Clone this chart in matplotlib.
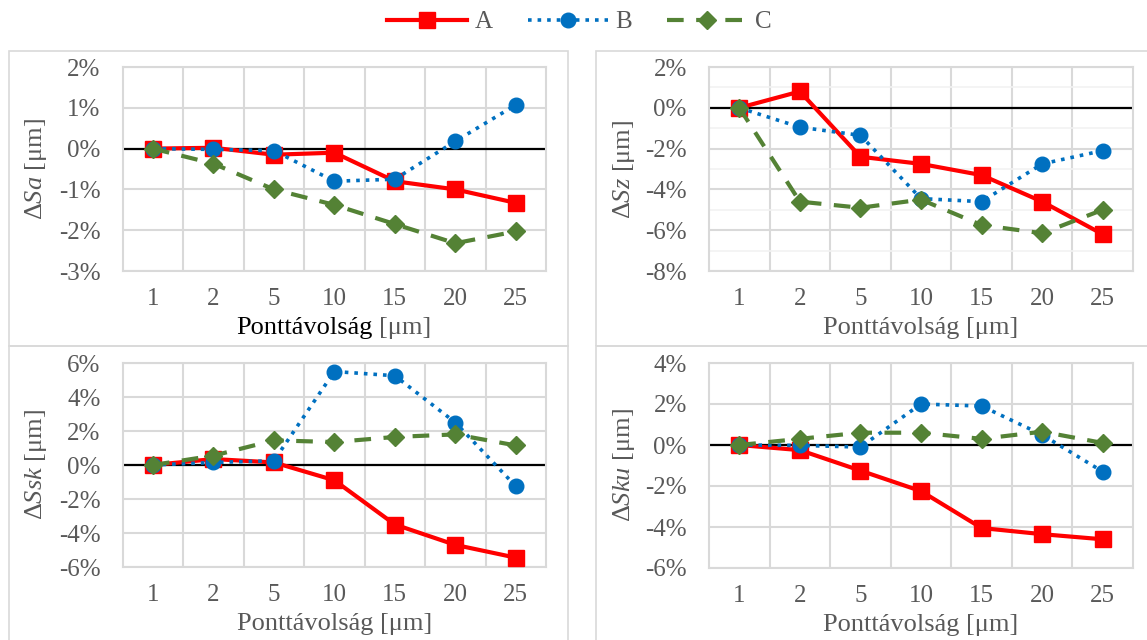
import matplotlib
matplotlib.use('Agg')
import matplotlib.pyplot as plt
from matplotlib.patches import Rectangle
from matplotlib.ticker import MultipleLocator, FuncFormatter

plt.rcParams['font.family'] = ['Liberation Serif', 'DejaVu Serif']
plt.rcParams['mathtext.fontset'] = 'custom'
plt.rcParams['mathtext.rm'] = 'Liberation Serif'
plt.rcParams['mathtext.it'] = 'Liberation Serif:italic'

categories = ['1', '2', '5', '10', '15', '20', '25']
series_names = ['A', 'B', 'C']

# values in percent
sa_a = [0, 0.02, -0.15, -0.1, -0.8, -1.0, -1.33]
sa_b = [0, -0.02, -0.05, -0.8, -0.75, 0.18, 1.07]
sa_c = [0, -0.37, -1.0, -1.38, -1.85, -2.32, -2.03]

sz_a = [0, 0.8, -2.4, -2.75, -3.3, -4.6, -6.2]
sz_b = [0, -0.95, -1.35, -4.45, -4.6, -2.75, -2.1]
sz_c = [0, -4.6, -4.9, -4.5, -5.75, -6.15, -5.0]

ssk_a = [0, 0.35, 0.15, -0.9, -3.5, -4.7, -5.45]
ssk_b = [0, 0.15, 0.25, 5.5, 5.25, 2.5, -1.25]
ssk_c = [0, 0.55, 1.45, 1.35, 1.65, 1.8, 1.15]

sku_a = [0, -0.25, -1.25, -2.25, -4.05, -4.35, -4.6]
sku_b = [0, -0.02, -0.1, 2.0, 1.9, 0.5, -1.3]
sku_c = [0, 0.3, 0.6, 0.6, 0.3, 0.65, 0.1]

W, H = 1147, 640
fig = plt.figure(figsize=(W / 100, H / 100), dpi=100)

grey = '#595959'
gridc = '#D9D9D9'
styles = [
    dict(color='#FF0000', ls='-', lw=3.0, marker='s', ms=11),
    dict(color='#0070C0', ls=':', lw=2.6, marker='o', ms=10.5),
    dict(color='#548235', ls=(0, (4, 3)), lw=3.0, marker='D', ms=9.5),
]

# panel boxes (pixels)
boxes = [(9, 51, 568, 346), (596, 51, 1150, 346), (9, 346, 568, 650), (596, 346, 1150, 650)]
for x0, y0, x1, y1 in boxes:
    fig.add_artist(Rectangle((x0 / W, 1 - y1 / H), (x1 - x0) / W, (y1 - y0) / H,
                             transform=fig.transFigure, fill=False, ec=gridc, lw=1.2))

panels = [
    (122.75, 67, 546, 271, [sa_a, sa_b, sa_c], (-3, 2), 1, False, 'Sa', 36),
    (709, 67, 1133, 271, [sz_a, sz_b, sz_c], (-8, 2), 2, True, 'Sz', 624),
    (122.75, 363, 546, 567, [ssk_a, ssk_b, ssk_c], (-6, 6), 2, False, 'Ssk', 36),
    (709, 363, 1133, 568, [sku_a, sku_b, sku_c], (-6, 4), 2, False, 'Sku', 624),
]

x = list(range(len(categories)))
lines = []
for i, (l, t, r, b, data, ylim, step, minor, name, ylx) in enumerate(panels):
    ax = fig.add_axes([l / W, 1 - b / H, (r - l) / W, (b - t) / H])
    ax.set_xlim(-0.5, len(categories) - 0.5)
    ax.set_ylim(*ylim)
    ax.yaxis.set_major_locator(MultipleLocator(step))
    ax.yaxis.set_major_formatter(FuncFormatter(lambda v, p: '%d%%' % round(v)))
    if minor:
        ax.yaxis.set_minor_locator(MultipleLocator(1))
        ax.grid(True, which='minor', axis='y', color='#F2F2F2', lw=1.2)
    ax.set_xticks(x)
    ax.set_xticklabels(categories)
    ax.set_xticks([k + 0.5 for k in x[:-1]], minor=True)
    ax.grid(True, which='major', axis='y', color=gridc, lw=1.5)
    ax.grid(True, which='minor', axis='x', color=gridc, lw=1.5)
    ax.tick_params(which='both', length=0)
    ax.tick_params(axis='x', pad=12, labelsize=18, labelcolor=grey)
    ax.tick_params(axis='y', pad=16, labelsize=18, labelcolor=grey)
    for s in ax.spines.values():
        s.set_color(gridc)
        s.set_linewidth(1.5)
    ax.axhline(0, color='black', lw=1.6, zorder=2)
    ax.set_axisbelow(True)
    for vals, st, nm in zip(data, styles, series_names):
        ln, = ax.plot(x, vals, label=nm, zorder=3, **st)
        if i == 0:
            lines.append(ln)
    fig.text(ylx / W, 1 - (t + b) / 2 / H, 'Δ$\\mathit{%s}$ [μm]' % name,
             rotation=90, ha='center', va='center', fontsize=19, color=grey)
    xl_y = 1 - (b + 57) / H
    cx = (l + r) / 2
    if i == 0:
        fig.text(373 / W, xl_y, 'Ponttávolság', ha='right', va='center',
                 fontsize=19, color='black')
        fig.text(379 / W, xl_y, '[μm]', ha='left', va='center',
                 fontsize=19, color=grey)
    else:
        fig.text(cx / W, xl_y, 'Ponttávolság [μm]', ha='center', va='center',
                 fontsize=19, color=grey)

leg = fig.legend(lines, series_names, loc='upper center', bbox_to_anchor=(0.505, 1.018),
                 ncol=3, frameon=False, fontsize=18, handlelength=3.2,
                 columnspacing=1.4, handletextpad=0.3)
for txt in leg.get_texts():
    txt.set_color(grey)

fig.savefig('out.png', dpi=100)
